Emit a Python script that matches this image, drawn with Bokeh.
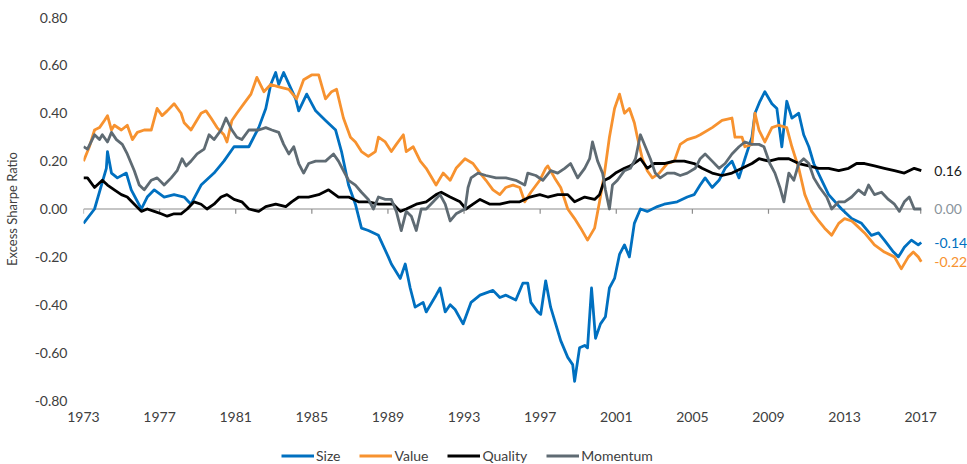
from bokeh.plotting import figure
from bokeh.layouts import column
from bokeh.models import (Legend, LegendItem, Label, FixedTicker,
                          CustomJSTickFormatter, Range1d)
from bokeh.embed import file_html
from bokeh.resources import INLINE

# ---------------- data ----------------
size_years = [1973.00, 1973.58, 1974.20, 1974.26, 1974.47, 1974.78, 1975.25, 1975.51, 1976.04, 1976.35,
              1976.72, 1977.24, 1977.76, 1978.29, 1978.65, 1979.18, 1979.86, 1980.38, 1980.91, 1981.17,
              1981.69, 1982.21, 1982.58, 1982.84, 1983.10, 1983.26, 1983.52, 1984.15, 1984.31, 1984.73,
              1985.20, 1985.72, 1986.25, 1986.56, 1986.93, 1987.29, 1987.61, 1987.97, 1988.50, 1989.02,
              1989.18, 1989.65, 1989.91, 1990.17, 1990.43, 1990.85, 1991.01, 1991.53, 1991.74, 1992.01,
              1992.27, 1992.53, 1992.95, 1993.37, 1993.84, 1994.52, 1994.88, 1995.20, 1995.72, 1996.09,
              1996.35, 1996.51, 1996.87, 1997.03, 1997.29, 1997.55, 1998.08, 1998.45, 1998.71, 1998.81,
              1999.07, 1999.34, 1999.49, 1999.70, 1999.91, 2000.17, 2000.43, 2000.64, 2000.91, 2001.17,
              2001.43, 2001.69, 2001.95, 2002.27, 2002.63, 2003.16, 2003.52, 2004.20, 2004.73, 2005.09,
              2005.41, 2005.67, 2006.04, 2006.40, 2006.72, 2007.08, 2007.45, 2007.76, 2008.13, 2008.29,
              2008.55, 2008.81, 2009.18, 2009.44, 2009.70, 2009.96, 2010.23, 2010.59, 2010.85, 2011.12,
              2011.38, 2011.80, 2012.16, 2012.84, 2013.37, 2013.89, 2014.41, 2014.78, 2015.09, 2015.57,
              2015.83, 2016.14, 2016.51, 2016.87, 2017.03]
size_vals = [-0.06, 0.00, 0.17, 0.24, 0.15, 0.13, 0.15, 0.08, 0.00, 0.05,
             0.08, 0.05, 0.06, 0.05, 0.02, 0.10, 0.15, 0.20, 0.26, 0.26,
             0.26, 0.34, 0.42, 0.52, 0.57, 0.52, 0.57, 0.46, 0.41, 0.48,
             0.41, 0.37, 0.33, 0.24, 0.10, 0.02, -0.08, -0.09, -0.11, -0.20,
             -0.23, -0.29, -0.23, -0.33, -0.41, -0.39, -0.43, -0.36, -0.33, -0.43,
             -0.40, -0.42, -0.48, -0.39, -0.36, -0.34, -0.37, -0.36, -0.38, -0.31,
             -0.31, -0.39, -0.43, -0.44, -0.30, -0.41, -0.55, -0.62, -0.65, -0.72,
             -0.58, -0.57, -0.58, -0.33, -0.54, -0.48, -0.45, -0.33, -0.29, -0.19,
             -0.15, -0.20, -0.06, 0.00, -0.01, 0.01, 0.02, 0.03, 0.05, 0.06,
             0.10, 0.13, 0.09, 0.12, 0.17, 0.20, 0.13, 0.21, 0.30, 0.40,
             0.45, 0.49, 0.44, 0.42, 0.26, 0.45, 0.38, 0.40, 0.31, 0.26,
             0.19, 0.12, 0.06, 0.00, -0.04, -0.06, -0.11, -0.10, -0.13, -0.18,
             -0.20, -0.16, -0.13, -0.15, -0.14]

value_years = [1973.00, 1973.31, 1973.58, 1973.84, 1974.10, 1974.26, 1974.47, 1974.62, 1974.99, 1975.30,
               1975.57, 1975.83, 1976.19, 1976.56, 1976.87, 1977.13, 1977.40, 1977.76, 1978.13, 1978.29,
               1978.65, 1979.18, 1979.44, 1979.70, 1980.02, 1980.38, 1980.54, 1980.80, 1981.06, 1981.43,
               1981.80, 1982.11, 1982.48, 1982.84, 1983.26, 1983.79, 1984.20, 1984.57, 1984.99, 1985.36,
               1985.72, 1986.04, 1986.30, 1986.66, 1987.03, 1987.29, 1987.61, 1987.97, 1988.34, 1988.50,
               1988.86, 1989.18, 1989.44, 1989.81, 1989.96, 1990.33, 1990.70, 1991.01, 1991.53, 1991.90,
               1992.27, 1992.58, 1993.05, 1993.47, 1993.84, 1994.15, 1994.52, 1994.88, 1995.20, 1995.57,
               1995.93, 1996.19, 1996.51, 1996.98, 1997.29, 1997.40, 1997.76, 1998.08, 1998.45, 1998.81,
               1999.13, 1999.49, 1999.86, 2000.12, 2000.38, 2000.64, 2000.91, 2001.17, 2001.43, 2001.69,
               2001.95, 2002.11, 2002.37, 2002.63, 2002.90, 2003.26, 2003.68, 2004.05, 2004.36, 2004.73,
               2005.15, 2005.41, 2006.04, 2006.56, 2007.08, 2007.24, 2007.61, 2007.76, 2008.13, 2008.29,
               2008.50, 2008.81, 2009.18, 2009.54, 2009.96, 2010.23, 2010.59, 2010.91, 2011.27, 2011.64,
               2011.95, 2012.32, 2012.69, 2013.00, 2013.37, 2013.52, 2014.05, 2014.57, 2015.09, 2015.62,
               2015.98, 2016.35, 2016.61, 2016.87, 2017.03]
value_vals = [0.20, 0.26, 0.33, 0.34, 0.37, 0.39, 0.33, 0.35, 0.33, 0.35,
              0.29, 0.32, 0.33, 0.33, 0.42, 0.39, 0.41, 0.44, 0.40, 0.36,
              0.33, 0.40, 0.41, 0.38, 0.34, 0.31, 0.28, 0.37, 0.40, 0.44,
              0.48, 0.55, 0.49, 0.52, 0.51, 0.50, 0.46, 0.54, 0.56, 0.56,
              0.46, 0.49, 0.50, 0.38, 0.30, 0.28, 0.24, 0.22, 0.24, 0.30,
              0.28, 0.24, 0.27, 0.31, 0.24, 0.26, 0.20, 0.17, 0.10, 0.15,
              0.12, 0.17, 0.21, 0.19, 0.15, 0.12, 0.08, 0.06, 0.09, 0.10,
              0.09, 0.03, 0.07, 0.12, 0.17, 0.18, 0.13, 0.09, 0.00, -0.04,
              -0.08, -0.13, -0.08, 0.03, 0.15, 0.30, 0.42, 0.48, 0.40, 0.42,
              0.36, 0.30, 0.21, 0.16, 0.13, 0.15, 0.19, 0.20, 0.27, 0.29,
              0.30, 0.31, 0.34, 0.37, 0.38, 0.30, 0.30, 0.26, 0.27, 0.40,
              0.33, 0.28, 0.34, 0.35, 0.34, 0.26, 0.17, 0.06, -0.01, -0.05,
              -0.08, -0.11, -0.06, -0.04, -0.05, -0.06, -0.10, -0.15, -0.18, -0.20,
              -0.25, -0.20, -0.18, -0.20, -0.22]

quality_years = [1973.00, 1973.21, 1973.58, 1973.99, 1974.26, 1974.62, 1974.99, 1975.30, 1975.67, 1976.04,
                 1976.35, 1976.72, 1977.08, 1977.40, 1977.76, 1978.13, 1978.45, 1978.81, 1979.18, 1979.49,
                 1979.86, 1980.23, 1980.54, 1980.91, 1981.32, 1981.69, 1982.21, 1982.58, 1983.10, 1983.63,
                 1983.94, 1984.31, 1984.83, 1985.36, 1985.88, 1986.40, 1986.93, 1987.45, 1987.97, 1988.50,
                 1989.02, 1989.28, 1989.65, 1989.96, 1990.49, 1991.01, 1991.53, 1991.80, 1992.27, 1992.79,
                 1993.10, 1993.47, 1993.84, 1994.36, 1994.88, 1995.41, 1995.93, 1996.46, 1996.98, 1997.40,
                 1997.92, 1998.45, 1998.81, 1999.34, 1999.86, 2000.12, 2000.38, 2000.64, 2000.96, 2001.43,
                 2001.74, 2002.11, 2002.27, 2002.63, 2003.00, 2003.52, 2004.05, 2004.57, 2005.09, 2005.51,
                 2006.04, 2006.56, 2007.08, 2007.61, 2008.13, 2008.50, 2009.02, 2009.54, 2010.07, 2010.59,
                 2011.12, 2011.64, 2012.16, 2012.69, 2013.21, 2013.63, 2014.05, 2014.57, 2015.09, 2015.62,
                 2016.14, 2016.66, 2017.03]
quality_vals = [0.13, 0.13, 0.09, 0.12, 0.10, 0.08, 0.06, 0.05, 0.02, -0.01,
                0.00, -0.01, -0.02, -0.03, -0.02, -0.02, 0.00, 0.03, 0.02, 0.00,
                0.02, 0.05, 0.06, 0.04, 0.03, 0.00, -0.01, 0.01, 0.02, 0.01,
                0.03, 0.05, 0.05, 0.06, 0.08, 0.05, 0.05, 0.03, 0.03, 0.02,
                0.02, 0.02, -0.01, 0.00, 0.02, 0.03, 0.06, 0.07, 0.05, 0.03,
                0.00, 0.02, 0.04, 0.02, 0.02, 0.03, 0.03, 0.05, 0.06, 0.05,
                0.06, 0.06, 0.03, 0.05, 0.04, 0.06, 0.12, 0.13, 0.15, 0.17,
                0.18, 0.20, 0.21, 0.17, 0.19, 0.19, 0.20, 0.20, 0.19, 0.17,
                0.15, 0.14, 0.15, 0.17, 0.19, 0.21, 0.20, 0.21, 0.21, 0.19,
                0.18, 0.17, 0.17, 0.16, 0.17, 0.19, 0.19, 0.18, 0.17, 0.16,
                0.15, 0.17, 0.16]

momentum_years = [1973.00, 1973.21, 1973.58, 1973.84, 1973.99, 1974.26, 1974.47, 1974.73, 1975.04, 1975.30,
                  1975.67, 1975.93, 1976.19, 1976.56, 1976.87, 1977.24, 1977.61, 1977.92, 1978.18, 1978.39,
                  1978.65, 1978.97, 1979.34, 1979.60, 1979.86, 1980.23, 1980.49, 1980.80, 1981.06, 1981.32,
                  1981.69, 1982.21, 1982.58, 1982.90, 1983.26, 1983.52, 1983.79, 1984.05, 1984.31, 1984.57,
                  1984.83, 1985.20, 1985.72, 1986.14, 1986.40, 1986.66, 1986.93, 1987.29, 1987.61, 1987.97,
                  1988.24, 1988.50, 1988.86, 1989.18, 1989.44, 1989.70, 1989.96, 1990.23, 1990.49, 1990.75,
                  1991.01, 1991.38, 1991.74, 1992.01, 1992.27, 1992.58, 1993.05, 1993.21, 1993.37, 1993.73,
                  1994.15, 1994.68, 1995.20, 1995.72, 1996.19, 1996.35, 1996.77, 1997.14, 1997.55, 1997.92,
                  1998.29, 1998.60, 1998.97, 1999.34, 1999.60, 1999.75, 2000.02, 2000.28, 2000.43, 2000.64,
                  2000.80, 2001.06, 2001.43, 2001.74, 2002.01, 2002.27, 2002.53, 2002.79, 2003.05, 2003.31,
                  2003.68, 2004.05, 2004.36, 2004.73, 2005.15, 2005.41, 2005.67, 2006.04, 2006.40, 2006.72,
                  2007.08, 2007.45, 2007.76, 2008.13, 2008.50, 2008.76, 2009.07, 2009.34, 2009.60, 2009.81,
                  2010.07, 2010.33, 2010.59, 2010.85, 2011.12, 2011.38, 2011.69, 2012.06, 2012.32, 2012.69,
                  2013.00, 2013.37, 2013.73, 2014.05, 2014.26, 2014.57, 2014.94, 2015.30, 2015.62, 2015.88,
                  2016.14, 2016.40, 2016.66, 2017.03]
momentum_vals = [0.26, 0.25, 0.31, 0.29, 0.31, 0.28, 0.32, 0.29, 0.27, 0.23,
                 0.16, 0.10, 0.08, 0.12, 0.13, 0.10, 0.13, 0.16, 0.21, 0.18,
                 0.20, 0.23, 0.25, 0.31, 0.29, 0.33, 0.38, 0.33, 0.30, 0.29,
                 0.33, 0.33, 0.34, 0.33, 0.32, 0.27, 0.23, 0.26, 0.19, 0.15,
                 0.19, 0.20, 0.20, 0.23, 0.20, 0.16, 0.12, 0.10, 0.07, 0.04,
                 0.00, 0.05, 0.04, 0.04, -0.01, -0.09, -0.01, -0.03, -0.09, 0.00,
                 0.00, 0.03, 0.06, 0.02, -0.05, -0.02, 0.00, 0.09, 0.13, 0.15,
                 0.14, 0.13, 0.13, 0.12, 0.10, 0.15, 0.14, 0.12, 0.16, 0.15,
                 0.17, 0.19, 0.13, 0.17, 0.21, 0.28, 0.20, 0.15, 0.08, 0.00,
                 0.10, 0.12, 0.16, 0.17, 0.21, 0.31, 0.26, 0.21, 0.15, 0.13,
                 0.15, 0.15, 0.14, 0.15, 0.17, 0.21, 0.23, 0.20, 0.17, 0.19,
                 0.23, 0.26, 0.28, 0.27, 0.27, 0.26, 0.19, 0.15, 0.09, 0.03,
                 0.15, 0.12, 0.19, 0.21, 0.19, 0.13, 0.09, 0.05, 0.00, 0.03,
                 0.03, 0.05, 0.08, 0.06, 0.10, 0.06, 0.07, 0.04, 0.02, -0.01,
                 0.03, 0.05, 0.00, 0.00]

series_names = ["Size", "Value", "Quality", "Momentum"]
series_colors = ["#0070C0", "#F7922F", "#000000", "#5F6B73"]
label_colors = ["#0070C0", "#F7922F", "#1A1A1A", "#8A949C"]
x_tick_years = [1973, 1977, 1981, 1985, 1989, 1993, 1997, 2001, 2005, 2009, 2013, 2017]
y_ticks = [-0.8, -0.6, -0.4, -0.2, 0.0, 0.2, 0.4, 0.6, 0.8]
y_title = "Excess Sharpe Ratio"

FONT = "Lato"
TEXT = "#404040"

# layout in screen pixels (the page template has no body margin)
W = 967
H_MAIN, H_LEG = 440, 24
LEFT, TOP, BOTTOM = 79, 17, 40
AXIS_PX = 841                      # pixels between first and last x tick
px_per_year = AXIS_PX / (x_tick_years[-1] - x_tick_years[0])
x_end = x_tick_years[0] + (W - LEFT) / px_per_year   # frame runs to the right edge (room for end labels)

p = figure(width=W, height=H_MAIN, output_backend="svg", toolbar_location=None,
           x_range=Range1d(x_tick_years[0], x_end),
           y_range=Range1d(y_ticks[0], y_ticks[-1]),
           min_border_left=LEFT, min_border_right=0, min_border_top=TOP, min_border_bottom=BOTTOM)
p.outline_line_color = None
p.grid.visible = False
p.background_fill_color = "white"

# zero line (axis crossing) + small tick marks along it
p.segment(x0=[x_tick_years[0]], y0=[0], x1=[x_tick_years[-1]], y1=[0],
          line_color="#8C8C8C", line_width=1.2)
tick_len = 0.02
p.segment(x0=x_tick_years, y0=[0] * len(x_tick_years), x1=x_tick_years,
          y1=[-tick_len] * len(x_tick_years), line_color="#8C8C8C", line_width=1.2)

all_years = [size_years, value_years, quality_years, momentum_years]
all_vals = [size_vals, value_vals, quality_vals, momentum_vals]
for yrs, vals, col in zip(all_years, all_vals, series_colors):
    p.line(yrs, vals, line_color=col, line_width=2.8, line_join="round")

# end-of-series labels
for yrs, vals, col in zip(all_years, all_vals, label_colors):
    v = vals[-1]
    txt = f"{abs(v):.2f}" if abs(v) < 0.005 else f"{v:.2f}"
    p.add_layout(Label(x=yrs[-1], y=v, text=txt, x_offset=13, text_align="left",
                       text_baseline="middle", text_color=col, text_font=FONT,
                       text_font_size="14px"))

# axes
xa = p.xaxis[0]
xa.ticker = FixedTicker(ticks=x_tick_years)
xa.axis_line_color = None
xa.major_tick_line_color = None
xa.minor_tick_line_color = None
xa.major_tick_out = 0
xa.major_tick_in = 0
xa.major_label_standoff = 11
xa.major_label_text_font = FONT
xa.major_label_text_font_size = "14px"
xa.major_label_text_color = TEXT

ya = p.yaxis[0]
ya.ticker = FixedTicker(ticks=y_ticks)
ya.formatter = CustomJSTickFormatter(code="return tick.toFixed(2);")
ya.axis_line_color = None
ya.major_tick_line_color = None
ya.minor_tick_line_color = None
ya.major_tick_out = 0
ya.major_tick_in = 0
ya.major_label_standoff = 16
ya.major_label_text_font = FONT
ya.major_label_text_font_size = "14px"
ya.major_label_text_color = TEXT
ya.axis_label = y_title
ya.axis_label_standoff = 12
ya.axis_label_text_font = FONT
ya.axis_label_text_font_size = "13px"
ya.axis_label_text_font_style = "normal"
ya.axis_label_text_color = TEXT

# legend strip below the chart
pl = figure(width=W, height=H_LEG, output_backend="svg", toolbar_location=None,
            x_range=Range1d(0, 1), y_range=Range1d(0, 1), min_border=0,
            x_axis_location=None, y_axis_location=None)
pl.grid.visible = False
pl.outline_line_color = None
leg_renderers = [pl.line(x=[0.0], y=[float("nan")], line_color=c, line_width=2.8)
                 for c in series_colors]
legend = Legend(items=[LegendItem(label=n, renderers=[r]) for n, r in zip(series_names, leg_renderers)],
                orientation="horizontal", location=(198, 0),
                glyph_width=33, glyph_height=17, label_height=17, label_standoff=2,
                spacing=19, padding=0, margin=0,
                border_line_alpha=0, background_fill_alpha=0,
                label_text_font=FONT, label_text_font_size="14px", label_text_color=TEXT)
pl.add_layout(legend)

layout = column(p, pl, spacing=0)
open("out.html", "w").write(file_html(layout, INLINE))
